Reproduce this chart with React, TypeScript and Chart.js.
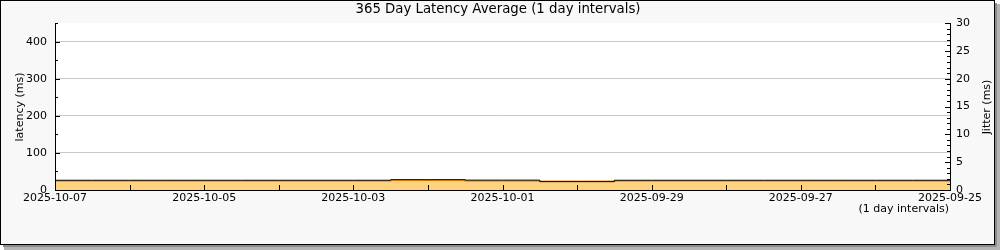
import React, { useEffect, useRef } from "react";
import { Chart, registerables } from "chart.js";

Chart.register(...registerables);

const dates = [
  "2025-10-07", "2025-10-06", "2025-10-05", "2025-10-04", "2025-10-03",
  "2025-10-02", "2025-10-01", "2025-09-30", "2025-09-29", "2025-09-28",
  "2025-09-27", "2025-09-26", "2025-09-25",
];
const latency = [24.3, 24.3, 24.3, 24.3, 24.3, 26.0, 24.6, 23.3, 24.3, 24.3, 24.3, 24.3, 24.3];
const jitter = [1.75, 1.75, 1.75, 1.75, 1.75, 1.85, 1.77, 1.5, 1.75, 1.75, 1.75, 1.75, 1.75];
const latencyTicks = [0, 100, 200, 300, 400];
const jitterTicks = [0, 5, 10, 15, 20, 25, 30];

const FONT = "DejaVu Sans";
const TITLE = "365 Day Latency Average (1 day intervals)";

const framePlugin = {
  id: "frame",
  beforeDraw(chart: any) {
    const ctx = chart.ctx;
    const a = chart.chartArea;
    ctx.save();
    ctx.fillStyle = "#ffffff";
    ctx.fillRect(0, 0, 1000, 250);
    // shadow
    ctx.fillStyle = "#b4b4b4";
    ctx.fillRect(4, 245, 996, 5);
    ctx.fillRect(995, 4, 5, 246);
    ctx.fillStyle = "#8c8c8c";
    ctx.fillRect(3, 245, 993, 2);
    ctx.fillRect(995, 3, 2, 243);
    // box
    ctx.fillStyle = "#f8f8f8";
    ctx.fillRect(0, 0, 995, 245);
    ctx.strokeStyle = "#000";
    ctx.lineWidth = 1;
    ctx.strokeRect(0.5, 0.5, 994, 244);
    // plot bg
    ctx.fillStyle = "#ffffff";
    ctx.fillRect(a.left, a.top, a.right - a.left, a.bottom - a.top);
    // title
    ctx.fillStyle = "#000";
    ctx.font = `13.3px '${FONT}'`;
    ctx.textAlign = "center";
    ctx.textBaseline = "middle";
    ctx.fillText(TITLE, 498, 10);
    ctx.restore();
  },
  afterDraw(chart: any) {
    const ctx = chart.ctx;
    const a = chart.chartArea;
    const y = chart.scales.y;
    const y1 = chart.scales.y1;
    const x = chart.scales.x;
    ctx.save();
    ctx.strokeStyle = "#000";
    ctx.lineWidth = 1;
    ctx.beginPath();
    ctx.moveTo(a.left + 0.5, a.top);
    ctx.lineTo(a.left + 0.5, a.bottom + 0.5);
    ctx.lineTo(a.right + 0.5, a.bottom + 0.5);
    ctx.moveTo(a.right + 0.5, a.top);
    ctx.lineTo(a.right + 0.5, a.bottom + 0.5);
    for (let v = 0; v <= 450; v += 50) {
      const py = Math.round(y.getPixelForValue(v)) + 0.5;
      ctx.moveTo(a.left, py);
      ctx.lineTo(a.left + (v % 100 === 0 ? 5 : 3), py);
    }
    for (let v = 0; v <= 30; v += 1) {
      const py = Math.round(y1.getPixelForValue(v)) + 0.5;
      ctx.moveTo(a.right + 1, py);
      ctx.lineTo(a.right - (v % 5 === 0 ? 5 : 3), py);
    }
    for (let i = 0; i < dates.length; i++) {
      const px = Math.round(x.getPixelForValue(i)) + 0.5;
      ctx.moveTo(px, a.bottom);
      ctx.lineTo(px, a.bottom - 5);
    }
    ctx.stroke();

    ctx.fillStyle = "#000";
    ctx.font = `11px '${FONT}'`;
    ctx.textAlign = "center";
    ctx.textBaseline = "middle";
    ctx.save();
    ctx.translate(20, 107);
    ctx.rotate(-Math.PI / 2);
    ctx.fillText("latency (ms)", 0, 0);
    ctx.restore();
    ctx.save();
    ctx.translate(987, 107);
    ctx.rotate(-Math.PI / 2);
    ctx.fillText("Jitter (ms)", 0, 0);
    ctx.restore();
    ctx.textAlign = "right";
    ctx.fillText("(1 day intervals)", a.right - 1, 209);
    ctx.restore();
  },
};

export default function App() {
  const ref = useRef<HTMLCanvasElement>(null);
  useEffect(() => {
    const chart = new Chart(ref.current as HTMLCanvasElement, {
      type: "line",
      data: {
        datasets: [
          {
            label: "latency",
            data: dates.map((_, i) => ({ x: i, y: latency[i] })),
            yAxisID: "y",
            stepped: "middle",
            fill: "origin",
            backgroundColor: "#ffd27f",
            borderColor: "#f59300",
            borderWidth: 1.5,
            pointRadius: 0,
            order: 2,
          },
          {
            label: "jitter",
            data: dates.map((_, i) => ({ x: i, y: jitter[i] })),
            yAxisID: "y1",
            stepped: "middle",
            fill: false,
            borderColor: "#000000",
            borderWidth: 1,
            pointRadius: 0,
            order: 1,
          },
        ],
      },
      plugins: [framePlugin],
      options: {
        animation: false,
        responsive: false,
        devicePixelRatio: 1,
        layout: { padding: { top: 23, left: 0, right: 0, bottom: 0 } },
        plugins: { legend: { display: false }, tooltip: { enabled: false }, title: { display: false } },
        scales: {
          x: {
            type: "linear",
            min: 0,
            max: dates.length - 1,
            afterBuildTicks: (s: any) => {
              s.ticks = dates.map((_, i) => ({ value: i }));
            },
            afterFit: (s: any) => { s.height = 60; },
            ticks: {
              autoSkip: false,
              maxRotation: 0,
              padding: 2,
              color: "#000",
              font: { family: FONT, size: 11 },
              callback: (v: any) => (Number(v) % 2 === 0 ? dates[Number(v)] : ""),
            },
            grid: { display: false, drawTicks: false },
            border: { display: false },
          },
          y: {
            position: "left",
            min: 0,
            max: 451,
            afterBuildTicks: (s: any) => {
              s.ticks = latencyTicks.map((v) => ({ value: v }));
            },
            afterFit: (s: any) => { s.width = 55; },
            ticks: { padding: 8, color: "#000", font: { family: FONT, size: 11 } },
            grid: { color: "#c8c8c8", drawTicks: false },
            border: { display: false },
          },
          y1: {
            position: "right",
            min: 0,
            max: 30,
            afterBuildTicks: (s: any) => {
              s.ticks = jitterTicks.map((v) => ({ value: v }));
            },
            afterFit: (s: any) => { s.width = 50; },
            ticks: { padding: 6, color: "#000", font: { family: FONT, size: 11 } },
            grid: { drawOnChartArea: false, drawTicks: false },
            border: { display: false },
          },
        },
      },
    });
    return () => chart.destroy();
  }, []);
  return (
    <div style={{ position: "absolute", left: 0, top: 0, width: 1000, height: 250 }}>
      <canvas ref={ref} width={1000} height={250} style={{ display: "block" }} />
    </div>
  );
}
